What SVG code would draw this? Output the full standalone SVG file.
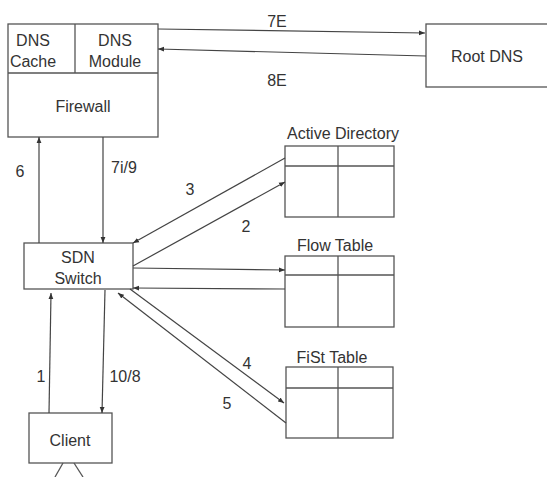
<svg xmlns="http://www.w3.org/2000/svg" width="547" height="477" viewBox="0 0 547 477">
<style>
.box{fill:#fff;stroke:#555;stroke-width:1.3}
.ln{fill:none;stroke:#555;stroke-width:1.3}
.t{font-family:"Liberation Sans",Arial,sans-serif;font-size:16px;fill:#333;text-anchor:middle}
.c{stroke:#444;stroke-width:1.2;fill:none;marker-end:url(#ah)}
</style>
<defs>
<marker id="ah" viewBox="0 0 10 10" refX="10" refY="5" markerWidth="6" markerHeight="6" markerUnits="userSpaceOnUse" orient="auto">
<path d="M0,1 L10,5 L0,9 z" fill="#333"/>
</marker>
</defs>
<rect width="547" height="477" fill="#fff"/>
<g id="firewall">
<rect class="box" x="8" y="24" width="150" height="113"/>
<line class="ln" x1="8" y1="73" x2="158" y2="73"/>
<line class="ln" x1="75" y1="24" x2="75" y2="73"/>
<text class="t" x="33" y="46">DNS</text>
<text class="t" x="33" y="67">Cache</text>
<text class="t" x="115" y="46">DNS</text>
<text class="t" x="115" y="67">Module</text>
<text class="t" x="83" y="112">Firewall</text>
</g>
<g id="rootdns">
<rect class="box" x="426" y="24" width="125" height="63"/>
<text class="t" x="487" y="62">Root DNS</text>
</g>
<g id="sdnswitch">
<rect class="box" x="24" y="243" width="109" height="46"/>
<text class="t" x="78" y="263">SDN</text>
<text class="t" x="78" y="284">Switch</text>
</g>
<g id="client">
<rect class="box" x="29" y="413" width="83" height="50"/>
<text class="t" x="70" y="446">Client</text>
<line class="ln" x1="63" y1="463" x2="55" y2="477"/>
<line class="ln" x1="74" y1="463" x2="83" y2="477"/>
</g>
<g id="activedirectory">
<text class="t" x="343" y="139">Active Directory</text>
<rect class="box" x="285" y="146" width="109" height="71"/>
<line class="ln" x1="285" y1="166" x2="394" y2="166"/>
<line class="ln" x1="338" y1="146" x2="338" y2="217"/>
</g>
<g id="flowtable">
<text class="t" x="335" y="251">Flow Table</text>
<rect class="box" x="285" y="256" width="109" height="71"/>
<line class="ln" x1="285" y1="275" x2="394" y2="275"/>
<line class="ln" x1="338" y1="256" x2="338" y2="327"/>
</g>
<g id="fisttable">
<text class="t" x="332" y="363">FiSt Table</text>
<rect class="box" x="286" y="367" width="107" height="71"/>
<line class="ln" x1="286" y1="388" x2="393" y2="388"/>
<line class="ln" x1="338" y1="367" x2="338" y2="438"/>
</g>
<g id="connectors">
<line class="c" x1="158" y1="29" x2="425" y2="33"/>
<line class="c" x1="426" y1="56" x2="158" y2="49"/>
<line class="c" x1="39" y1="243" x2="39" y2="137"/>
<line class="c" x1="103" y1="137" x2="103" y2="243"/>
<line class="c" x1="285" y1="158" x2="133" y2="243"/>
<line class="c" x1="133" y1="266" x2="285" y2="182"/>
<line class="c" x1="133" y1="268" x2="285" y2="270"/>
<line class="c" x1="285" y1="289" x2="133" y2="288"/>
<line class="c" x1="130" y1="289" x2="284" y2="403"/>
<line class="c" x1="286" y1="423" x2="118" y2="293"/>
<line class="c" x1="49" y1="413" x2="51" y2="293"/>
<line class="c" x1="105" y1="290" x2="102" y2="413"/>
<text class="t" x="277" y="27">7E</text>
<text class="t" x="277" y="86">8E</text>
<text class="t" x="20" y="177">6</text>
<text class="t" x="124" y="173">7i/9</text>
<text class="t" x="190" y="195">3</text>
<text class="t" x="246" y="232">2</text>
<text class="t" x="247" y="369">4</text>
<text class="t" x="227" y="409">5</text>
<text class="t" x="41" y="382">1</text>
<text class="t" x="125" y="382">10/8</text>
</g>
</svg>
